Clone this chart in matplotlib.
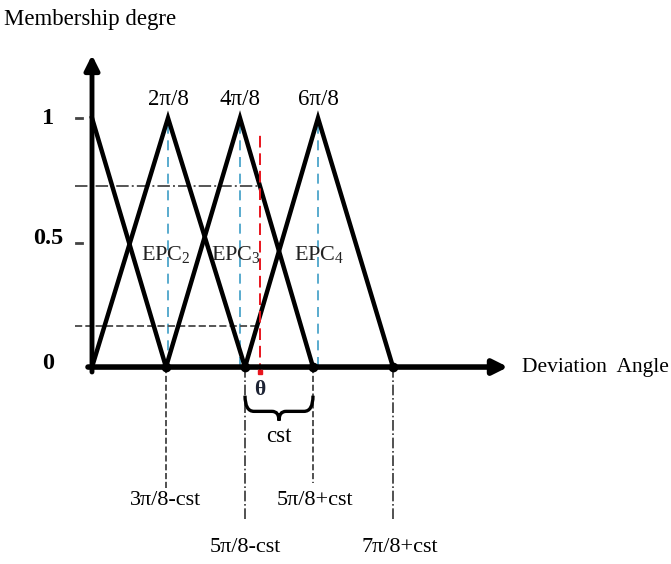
import matplotlib
matplotlib.use('Agg')
import matplotlib.pyplot as plt
from matplotlib.path import Path
from matplotlib.patches import PathPatch

plt.rcParams['font.family'] = ['Liberation Serif', 'DejaVu Serif']
plt.rcParams['mathtext.fontset'] = 'custom'
plt.rcParams['mathtext.rm'] = 'Liberation Serif'
plt.rcParams['mathtext.it'] = 'Liberation Serif:italic'

# membership functions (x, origin = 0)
peak_pos = [0, 76, 148, 226]
left_foot = [None, 0, 74, 153]
right_foot = [74, 153, 221, 301]
peak_labels = ['', '2π/8', '4π/8', '6π/8']
epc_labels = ['', 'EPC$_2$', 'EPC$_3$', 'EPC$_4$']
epc_label_x = [0, 74, 144, 227]

foot_labels = ['3π/8-cst', '5π/8-cst', '5π/8+cst', '7π/8+cst']
foot_styles = ['--', '-.', '--', '-.']
foot_depth = [-0.494, -0.614, -0.466, -0.614]
foot_label_y = [-0.534, -0.723, -0.534, -0.723]

theta = 168
theta_levels = [0.727, 0.165]   # degrees of EPC3 / EPC4 at theta
level_styles = ['-.', '--']

y_ticks = [0, 0.5, 1]
y_tick_labels = ['0', '0.5', '1']

fig = plt.figure(figsize=(6.71, 5.64), dpi=100)
ax = fig.add_axes([0, 0, 1, 1])
ax.set_xlim(-92, 579)
ax.set_ylim(-0.791, 1.474)
ax.axis('off')

black_lw = 3.2

# helper lines first (under the triangles)
for p in peak_pos[1:]:
    ax.plot([p, p], [0, 1], color='#3d9dc6', lw=1.2, dashes=(6, 4), zorder=1)

ax.plot([theta, theta], [-0.03, 0.94], color='#e8141c', lw=1.4, dashes=(6, 3), zorder=4)

for lev, st in zip(theta_levels, level_styles):
    ax.plot([-17, theta], [lev, lev], color='#555555', lw=1.4, ls=st, zorder=1)

for f, st, d in zip(right_foot, foot_styles, foot_depth):
    ax.plot([f, f], [0, d], color='#333333', lw=1.2, ls=st, zorder=1)

# triangles
for i in range(len(peak_pos)):
    if left_foot[i] is None:
        xs = [peak_pos[i], right_foot[i]]
        ys = [1, 0]
    else:
        xs = [left_foot[i], peak_pos[i], right_foot[i]]
        ys = [0, 1, 0]
    ax.plot(xs, ys, color='black', lw=black_lw, solid_joinstyle='miter', zorder=3)
    if peak_labels[i]:
        ax.text(peak_pos[i], 1.075, peak_labels[i], ha='center', va='center', fontsize=16.5)
    if epc_labels[i]:
        ax.text(epc_label_x[i], 0.45, epc_labels[i], ha='center', va='center', fontsize=16,
                color='#222222', zorder=5)

# axes with arrows
ax.annotate('', xy=(0, 1.253), xytext=(0, -0.02),
            arrowprops=dict(arrowstyle='-|>', lw=3.5, color='black', mutation_scale=22,
                            shrinkA=0, shrinkB=0), zorder=6)
ax.annotate('', xy=(416, 0), xytext=(-4, 0),
            arrowprops=dict(arrowstyle='-|>', lw=4, color='black', mutation_scale=22,
                            shrinkA=0, shrinkB=0), zorder=6)

ax.plot(right_foot, [0] * len(right_foot), 'o', color='black', ms=6, zorder=7)
ax.plot([theta], [-0.02], 's', color='#e8141c', ms=3, zorder=7)

# y ticks
for t, lab in zip(y_ticks, y_tick_labels):
    if t > 0:
        ax.plot([-16, -10], [t, t], color='#444444', lw=2)
    ax.text(-44, t + (0.018 if t == 0.5 else 0.0) + (0.016 if t == 0 else 0.0), lab,
            ha='center', va='center', fontsize=17.5, fontweight='bold')

ax.text(-88, 1.394, 'Membership degre', ha='left', va='center', fontsize=16.5)
ax.text(430, 0.0, 'Deviation  Angle', ha='left', va='center', fontsize=15.5)

# brace between 5pi/8-cst and 5pi/8+cst
b0, b1 = right_foot[1], right_foot[2]
mid = (b0 + b1) / 2
yt, yb, ytip = -0.115, -0.178, -0.215
verts = [(b0, yt), (b0, yb), (b0 + 9, yb), (mid - 7, yb), (mid, yb), (mid, ytip),
         (mid, yb), (mid + 7, yb), (b1 - 9, yb), (b1, yb), (b1, yt)]
codes = [Path.MOVETO, Path.CURVE3, Path.CURVE3, Path.LINETO, Path.CURVE3, Path.CURVE3,
         Path.CURVE3, Path.CURVE3, Path.LINETO, Path.CURVE3, Path.CURVE3]
ax.add_patch(PathPatch(Path(verts, codes), fill=False, lw=2.4, color='black'))
ax.text(theta, -0.092, 'θ', ha='center', va='center', fontsize=15.5, fontweight='bold',
        color='#1c2233')
ax.text(mid, -0.28, 'cst', ha='center', va='center', fontsize=16.5)

for f, lab, ly, dx in zip(right_foot, foot_labels, foot_label_y, [0, 0, 2, 7]):
    ax.text(f + dx, ly, lab, ha='center', va='center', fontsize=16)

fig.savefig('out.png', dpi=100)
